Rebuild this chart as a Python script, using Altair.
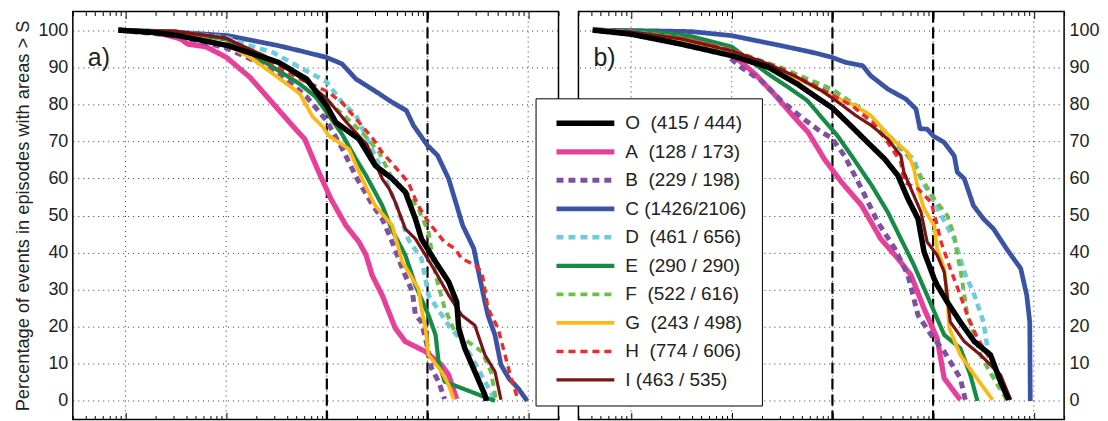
import altair as alt
import pandas as pd

# ---------------- legend / series ----------------
series_keys = ["A", "B", "C", "D", "E", "F", "G", "H", "I", "O"]
legend_order = ["O", "A", "B", "C", "D", "E", "F", "G", "H", "I"]
series_labels = {
    "O": "O\u00a0\u00a0(415 / 444)",
    "A": "A\u00a0\u00a0(128 / 173)",
    "B": "B\u00a0\u00a0(229 / 198)",
    "C": "C (1426/2106)",
    "D": "D\u00a0\u00a0(461 / 656)",
    "E": "E\u00a0\u00a0(290 / 290)",
    "F": "F\u00a0\u00a0(522 / 616)",
    "G": "G\u00a0\u00a0(243 / 498)",
    "H": "H\u00a0\u00a0(774 / 606)",
    "I": "\u00a0I\u00a0(463 / 535)",
}
series_colors = {"O": "#000000", "A": "#E8409A", "B": "#8050A0", "C": "#3A53A4",
                 "D": "#6CCBDD", "E": "#178A45", "F": "#6DBF4B", "G": "#FDB913",
                 "H": "#EE2A2A", "I": "#7B1416"}
dashed_series = ["B", "D", "F", "H"]

# ---------------- panel a (x given as log10 of S) ----------------
a_O_x = [0.93, 1.3, 1.53, 2.02, 2.52, 2.8, 3.0, 3.09, 3.32, 3.48, 3.65, 3.78, 3.88, 3.94, 4.08, 4.21, 4.29, 4.31, 4.37, 4.47, 4.57, 4.585]
a_O_y = [100, 99.3, 98.5, 95.8, 91.3, 86.8, 79.5, 75.1, 70.6, 63.5, 59.9, 56.3, 49.1, 43.7, 37.5, 32.1, 26.7, 19.6, 14.2, 7.9, 1.6, 0]
a_A_x = [0.93, 1.3, 1.55, 1.62, 1.8, 2.0, 2.235, 2.465, 2.63, 2.78, 2.92, 3.04, 3.19, 3.32, 3.39, 3.45, 3.55, 3.68, 3.78, 3.98, 4.14, 4.21, 4.29]
a_A_y = [100, 99.4, 97.6, 96.2, 95.5, 92.7, 87.3, 80.2, 75.1, 70.6, 61.7, 54.5, 47.3, 42.8, 39.3, 33.9, 28.5, 19.6, 16, 13.3, 9.7, 7.0, 0.5]
a_B_x = [0.93, 1.5, 2.0, 2.5, 2.8, 3.0, 3.155, 3.3, 3.45, 3.55, 3.65, 3.75, 3.85, 3.88, 3.94, 4.01, 4.04, 4.11, 4.17]
a_B_y = [100, 98.5, 95.2, 89, 82, 75.5, 67.9, 60, 53, 49.1, 42.8, 35.7, 29.4, 23.1, 21.3, 13.3, 8.8, 5.2, 0.5]
a_C_x = [0.93, 1.53, 2.02, 2.52, 2.8, 3.0, 3.15, 3.29, 3.5, 3.65, 3.79, 3.86, 4.0, 4.1, 4.21, 4.28, 4.35, 4.46, 4.5, 4.57, 4.6, 4.67, 4.73, 4.81, 4.9, 4.99]
a_C_y = [100, 99.4, 98.5, 95.8, 94, 92.6, 90.9, 86.8, 83.2, 80.5, 78.3, 74.3, 68.9, 66.2, 59.9, 53.6, 47.3, 41.1, 35.7, 26.7, 23.1, 17.8, 9.7, 6, 3.4, 0]
a_D_x = [0.93, 1.5, 2.0, 2.235, 2.465, 2.73, 3.0, 3.15, 3.29, 3.43, 3.54, 3.68, 3.81, 3.94, 4.01, 4.21, 4.37, 4.5, 4.67]
a_D_y = [100, 99.5, 98, 95.8, 94, 90, 86, 80.5, 77, 69, 62.6, 53.6, 43.5, 38.4, 28.5, 20.4, 15.1, 8.8, 0.3]
a_E_x = [0.93, 1.5, 2.0, 2.465, 2.73, 2.89, 3.02, 3.15, 3.29, 3.39, 3.55, 3.65, 3.78, 3.88, 4.01, 4.08, 4.11, 4.17, 4.67]
a_E_y = [100, 99.6, 97.5, 90, 85.5, 82, 77, 72, 65.2, 60.8, 52.7, 46, 39.3, 31.2, 23.1, 17.8, 10.6, 5.2, 0]
a_F_x = [0.93, 1.5, 2.0, 2.465, 2.73, 3.0, 3.15, 3.35, 3.52, 3.65, 3.8, 3.91, 4.01, 4.08, 4.17, 4.27, 4.4, 4.54, 4.63, 4.68]
a_F_y = [100, 99.5, 97.6, 92, 87.5, 81, 77.5, 72.4, 67, 59.9, 56, 51.8, 45.5, 33.9, 25, 18.7, 16, 13.3, 7.9, 0.3]
a_G_x = [0.93, 1.5, 2.0, 2.235, 2.465, 2.73, 2.86, 2.96, 3.02, 3.22, 3.35, 3.48, 3.65, 3.75, 3.91, 3.94, 3.98, 4.01, 4.14, 4.21, 4.26]
a_G_y = [100, 99.3, 96, 92.7, 88.2, 82.9, 76.6, 73.9, 71.5, 67.9, 59.9, 52.7, 47.3, 37.5, 30.3, 24.9, 19.6, 12.4, 7.9, 4.3, 0.5]
a_H_x = [0.93, 1.5, 2.0, 2.235, 2.465, 2.73, 3.0, 3.15, 3.32, 3.45, 3.55, 3.65, 3.81, 3.9, 4.01, 4.17, 4.27, 4.34, 4.47, 4.54, 4.6, 4.7, 4.77, 4.83, 4.9]
a_H_y = [100, 99.6, 97.8, 94, 90.9, 86.9, 83.5, 80.5, 75.1, 71, 67, 64, 58.9, 53, 48.2, 42.8, 41.1, 38.4, 36.6, 34.8, 25, 19.6, 12.4, 6.1, 0.3]
a_I_x = [0.93, 1.5, 2.0, 2.5, 2.8, 3.0, 3.2, 3.4, 3.5, 3.55, 3.62, 3.68, 3.78, 3.88, 3.98, 4.08, 4.21, 4.34, 4.47, 4.57, 4.67, 4.73]
a_I_y = [100, 99.7, 97.8, 91.5, 86, 81.5, 75, 69, 63, 59.9, 57.2, 53.6, 46.4, 43.7, 39.3, 34.8, 28.5, 23.1, 20.4, 12.4, 7.9, 0.3]

# ---------------- panel b (x given as log10 of S) ----------------
b_O_x = [0.62, 1.0, 1.5, 2.0, 2.36, 2.65, 2.89, 3.0, 3.19, 3.35, 3.52, 3.65, 3.75, 3.85, 3.91, 4.01, 4.04, 4.14, 4.27, 4.41, 4.57, 4.67, 4.75]
b_O_y = [100, 98.9, 96.2, 93.1, 90, 85.5, 81, 79, 74, 69.7, 65.2, 60.8, 54.5, 49.1, 40.2, 33, 31.2, 26.7, 21.3, 16, 12.4, 5.2, 0.3]
b_A_x = [0.62, 1.2, 1.5, 1.57, 1.76, 2.0, 2.23, 2.42, 2.62, 2.76, 2.92, 3.09, 3.29, 3.48, 3.65, 3.78, 3.91, 4.04, 4.11, 4.27]
b_A_y = [100, 99.5, 98, 97.6, 96.2, 93.5, 88.2, 82.8, 76.5, 72.4, 65.2, 59, 52.7, 43.7, 38.4, 33.9, 24.9, 16.9, 6.1, 0.3]
b_B_x = [0.62, 1.2, 1.6, 1.9, 2.09, 2.29, 2.49, 2.69, 2.89, 2.99, 3.12, 3.29, 3.45, 3.62, 3.75, 3.85, 3.98, 4.11, 4.27, 4.32]
b_B_y = [100, 99.5, 97.5, 94.5, 90, 86.4, 81, 76.5, 72.5, 71, 66.1, 57.2, 48.2, 41.1, 33.9, 23.1, 17.8, 13.3, 6.1, 0.3]
b_C_x = [0.62, 1.2, 1.6, 2.0, 2.49, 2.8, 3.0, 3.13, 3.3, 3.38, 3.55, 3.73, 3.83, 3.87, 3.94, 4.0, 4.11, 4.21, 4.24, 4.31, 4.4, 4.5, 4.6, 4.73, 4.87, 4.93, 4.96, 4.965]
b_C_y = [100, 99.8, 99.6, 98.5, 95.8, 94, 92.6, 91.3, 90.4, 87.7, 84.1, 81.4, 78.7, 73.4, 73.3, 71.5, 69.7, 66.1, 61.7, 59.9, 52.7, 49.1, 46.4, 41, 35.7, 28.5, 21.3, 0]
b_D_x = [0.62, 1.0, 1.5, 2.0, 2.5, 3.0, 3.3, 3.6, 3.75, 3.81, 3.88, 4.01, 4.17, 4.21, 4.31, 4.41, 4.5, 4.54, 4.6, 4.73]
b_D_y = [100, 99.6, 97.9, 94.5, 89.5, 83.5, 78, 70, 66.5, 65.2, 59.9, 53.6, 45.5, 43.7, 34.8, 28.5, 21.3, 14.2, 8.8, 0.3]
b_E_x = [0.62, 1.2, 1.6, 2.0, 2.36, 2.56, 2.75, 2.92, 3.05, 3.19, 3.39, 3.55, 3.68, 3.81, 3.94, 4.04, 4.11, 4.27, 4.37, 4.44]
b_E_y = [100, 99.6, 98.3, 95.5, 88.2, 84.6, 81, 75.6, 71.5, 66.1, 58.1, 50.9, 43.7, 36.6, 28.5, 22.2, 17.8, 14.2, 7.0, 0]
b_F_x = [0.62, 1.0, 1.5, 2.0, 2.5, 3.0, 3.3, 3.6, 3.75, 3.85, 4.01, 4.14, 4.21, 4.24, 4.27, 4.31, 4.34, 4.41, 4.47, 4.6, 4.73]
b_F_y = [100, 99.6, 97.9, 94.6, 89.8, 84, 78.5, 70.5, 66, 61.7, 54.5, 50, 44.6, 39.3, 35.7, 28.5, 23.1, 17.8, 12.4, 6.1, 0.3]
b_G_x = [0.62, 1.0, 1.5, 2.0, 2.5, 2.95, 3.2, 3.38, 3.59, 3.75, 3.81, 3.85, 3.91, 4.01, 4.04, 4.11, 4.14, 4.16, 4.27, 4.41, 4.59]
b_G_y = [100, 99.3, 97, 94, 89, 82.8, 80, 77, 70.7, 67, 62.6, 57.2, 51.8, 47.3, 41.1, 35.7, 28.5, 19.6, 12.4, 7.0, 0.3]
b_H_x = [0.62, 1.0, 1.5, 2.0, 2.5, 2.9, 3.2, 3.4, 3.55, 3.68, 3.71, 3.85, 3.98, 4.04, 4.08, 4.17, 4.27, 4.34, 4.44, 4.6, 4.77]
b_H_y = [100, 99.5, 97.8, 94.6, 89.5, 84, 79.5, 75, 69.7, 64.4, 59, 57.2, 53.6, 47.3, 42.8, 35.7, 28.5, 23.1, 16.9, 9.7, 0.3]
b_I_x = [0.62, 1.0, 1.5, 2.0, 2.36, 2.65, 2.89, 3.08, 3.23, 3.39, 3.55, 3.68, 3.71, 3.78, 3.88, 3.94, 4.04, 4.11, 4.14, 4.17, 4.31, 4.47, 4.67, 4.77]
b_I_y = [100, 99.5, 97.6, 94.4, 90.9, 87.3, 83.7, 80.1, 77, 74.2, 70.6, 66.1, 61.7, 57.2, 50.9, 42.9, 39.3, 34.8, 28.5, 21.3, 16, 12.4, 7.0, 0.3]

decades = [10, 100, 1000, 10000, 100000]
dashed_decades = [1000, 10000]
y_ticks = [0, 10, 20, 30, 40, 50, 60, 70, 80, 90, 100]
panel_names = ["a)", "b)"]
y_title = "Percentage of events in episodes with areas > S"

x_domain = [3, 200000]
y_domain = [-5, 105]

W, H = 487, 409
FONT = "Liberation Sans"

minor_ticks = [m * 10 ** e for e in range(0, 6) for m in range(1, 10) if 3 <= m * 10 ** e <= 200000]

panel_a = {k: (globals()[f"a_{k}_x"], globals()[f"a_{k}_y"]) for k in series_keys}
panel_b = {k: (globals()[f"b_{k}_x"], globals()[f"b_{k}_y"]) for k in series_keys}


def frame(pdata):
    rows = []
    for k in series_keys:
        xs, ys = pdata[k]
        for i, (lx, yv) in enumerate(zip(xs, ys)):
            rows.append({"series": series_labels[k], "S": 10 ** lx, "pct": yv, "idx": i})
    return pd.DataFrame(rows)


dom = [series_labels[k] for k in legend_order]
color_scale = alt.Scale(domain=dom, range=[series_colors[k] for k in legend_order])
dash_scale = alt.Scale(domain=dom, range=[[7, 5] if k in dashed_series else [1, 0] for k in legend_order])
width_scale = alt.Scale(domain=dom, range=[5.5 if k == "O" else 3.2 for k in legend_order])

xscale = alt.Scale(type="log", domain=x_domain, nice=False)
yscale = alt.Scale(domain=y_domain, nice=False, zero=False)

major_test = "abs(log(datum.value)/LN10 - round(log(datum.value)/LN10)) < 0.01"


def make_panel(pdata, name, side, show_legend):
    df = frame(pdata)
    if show_legend:
        leg = alt.Legend(
            orient="none", legendX=464, legendY=87, title=None,
            symbolType="stroke", symbolSize=3364, clipHeight=20, rowPadding=8.6,
            padding=15, strokeColor="black", fillColor="white",
            labelFont=FONT, labelFontSize=19, labelColor="#222",
            symbolOffset=3, labelOffset=8, symbolLimit=20,
        )
    else:
        leg = None
    yaxis = alt.Axis(
        orient=side, values=y_ticks, labelFont=FONT, labelFontSize=18, labelColor="#222",
        labelPadding=5, ticks=False, domain=False, grid=True, gridDash=[1, 4],
        gridColor="#333", gridWidth=1,
        title=y_title if side == "left" else None,
        titleFont=FONT, titleFontSize=18.3, titleFontWeight="normal", titleColor="#222",
        titlePadding=5,
    )
    lines = alt.Chart(df).mark_line(strokeJoin="round").encode(
        x=alt.X("S:Q", scale=xscale, axis=alt.Axis(
            orient="top", offset=-H, values=minor_ticks, labels=False, domain=False,
            grid=False, title=None, tickColor="black", tickWidth=1,
            tickSize={"condition": {"test": major_test, "value": 7}, "value": 4})),
        y=alt.Y("pct:Q", scale=yscale, axis=yaxis),
        color=alt.Color("series:N", scale=color_scale, legend=leg),
        strokeDash=alt.StrokeDash("series:N", scale=dash_scale, legend=leg),
        strokeWidth=alt.StrokeWidth("series:N", scale=width_scale, legend=leg),
        order="idx:Q",
    )
    grid = alt.Chart(pd.DataFrame({"S": decades})).mark_rule(
        color="#333", strokeWidth=1, strokeDash=[1, 4]
    ).encode(x=alt.X("S:Q", scale=xscale, axis=None))
    dashed = alt.Chart(pd.DataFrame({"S": dashed_decades})).mark_rule(
        color="black", strokeWidth=2.2, strokeDash=[11, 5]
    ).encode(x=alt.X("S:Q", scale=xscale, axis=alt.Axis(
        orient="bottom", offset=-H, values=minor_ticks, labels=False, domain=False,
        grid=False, title=None, tickColor="black", tickWidth=1,
        tickSize={"condition": {"test": major_test, "value": 7}, "value": 4})))
    label = alt.Chart(pd.DataFrame({"t": [name]})).mark_text(
        font=FONT, fontSize=25, align="left", baseline="middle", color="#222"
    ).encode(text="t:N", x=alt.value(15), y=alt.value(47))
    return alt.layer(grid, dashed, lines, label).resolve_axis(x="independent").properties(width=W, height=H)


pa = make_panel(panel_a, panel_names[0], "left", True)
pb = make_panel(panel_b, panel_names[1], "right", False)

chart = alt.hconcat(pa, pb, spacing=16).resolve_scale(
    color="shared", strokeDash="shared", strokeWidth="shared"
).properties(
    padding={"left": 5, "top": 1, "right": 0, "bottom": 0}
).configure_view(stroke="black", strokeWidth=1.5)

chart.save("out.html", embed_options={"renderer": "svg", "actions": False})
